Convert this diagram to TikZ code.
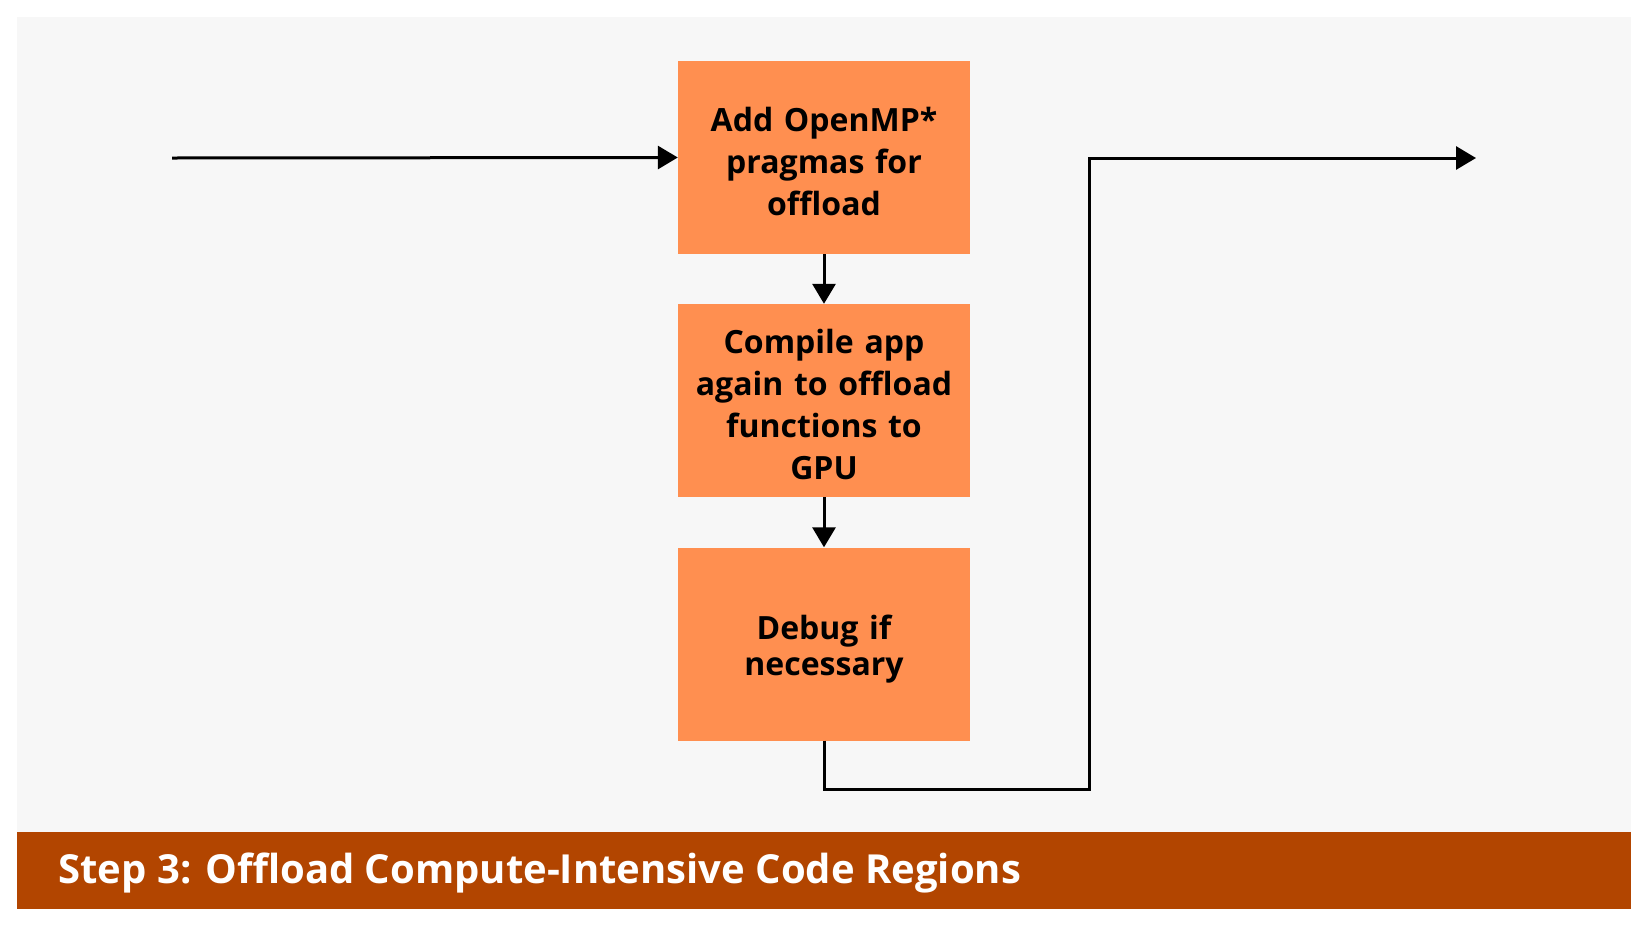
\documentclass[tikz,border=0pt]{standalone}
\usepackage{fontspec}
\setmainfont{Open Sans}
\usetikzlibrary{positioning}
\usetikzlibrary{arrows.meta}
\definecolor{panelgray}{HTML}{F7F7F7}
\definecolor{stepfill}{HTML}{FF8F50}
\definecolor{bandbrown}{HTML}{B24500}

\begin{document}
\begin{tikzpicture}
		[
			x = 1pt, y = -1pt,
			stepbox/.style = {rectangle, fill = stepfill, draw = none, minimum width = 292pt, minimum height = 193pt, inner sep = 0pt, align = center, text width = 290pt, font = \fontsize{32}{42}\selectfont\bfseries},
			flow/.style = {line width = 3pt, draw = black, -{Triangle[length = 20pt, width = 23pt]}},
		]
			%
			\useasboundingbox (0,0) rectangle (1648,927);
			\fill[panelgray] (17,17) rectangle (1631,832);
			\fill[bandbrown] (17,832) rectangle (1631,909);
			%
			\node (add) [stepbox] at (824,157.5) {\rule{0pt}{32.5pt}Add OpenMP*\\pragmas for\\offload};
			\node (compile) [stepbox] at (824,400.5) {\rule{0pt}{32.5pt}Compile app\\again to offload\\functions to\\GPU};
			\node (debug) [stepbox, font = \fontsize{32}{36}\selectfont\bfseries] at (824,644) {\rule{0pt}{34.5pt}Debug if\\necessary};
			%
			\coordinate (start) at (172,158);
			\coordinate (bend) at (1089,789);
			\coordinate (finish) at (1476,158);
			%
			\draw[flow] (start) -- (add.west);
			\draw[flow] (add.south) -- (compile.north);
			\draw[flow] (compile.south) -- (debug.north);
			\draw[flow] (debug.south) |- (bend) |- (finish);
			%
			\node (title) [anchor = west, text = white, font = \fontsize{40}{46}\selectfont\bfseries] at (55,873) {Step 3: Offload Compute-Intensive Code Regions};
			%
		\end{tikzpicture}
\end{document}
